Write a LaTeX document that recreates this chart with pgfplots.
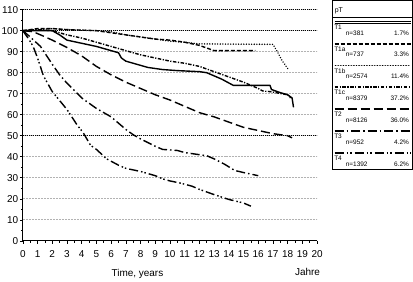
\documentclass[border=0pt]{standalone}
\usepackage{fontspec}
\setmainfont{Liberation Sans}
\usepackage{pgfplots}
\pgfplotsset{compat=1.18}
\tikzset{
  sT1/.style={solid},
  sT1a/.style={dash pattern=on 4bp off 2bp},
  sT1b/.style={line cap=round, line width=1.6bp, dash pattern=on 0.01bp off 2.6bp},
  sT1c/.style={dash pattern=on 3.5bp off 1.5bp on 1.2bp off 1.5bp},
  sT2/.style={dash pattern=on 9bp off 4bp},
  sT3/.style={dash pattern=on 9bp off 3bp on 1.5bp off 3bp},
  sT4/.style={dash pattern=on 9bp off 3bp on 1.5bp off 2bp on 1.5bp off 3bp},
  lgt/.style={inner sep=0pt, font=\fontsize{6.5}{7}\selectfont},
  lgl/.style={line width=1.8bp},
}
\begin{document}
\begin{tikzpicture}
\begin{axis}[
  scale only axis, width=294bp, height=231bp,
  xmin=0, xmax=20, ymin=0, ymax=110,
  axis x line=bottom, axis y line=left,
  axis line style={-, line width=1bp, black},
  xtick={0,...,20}, ytick={0,10,...,110},
  minor x tick num=1, minor y tick num=1,
  tick align=outside, major tick length=3bp, minor tick length=2bp,
  tick style={black, line width=0.6bp},
  ymajorgrids,
  major grid style={gray!60, dash pattern=on 1bp off 0.5bp, line width=0.9bp},
  extra y ticks={50,100,110}, extra y tick labels={},
  extra y tick style={grid=major, major grid style={black, dash pattern=on 1bp off 1bp, line width=0.8bp}},
  ticklabel style={font=\fontsize{10}{12}\selectfont, inner sep=1.5bp},
  xticklabel style={yshift=-5bp},
  /pgf/number format/assume math mode=true,
  clip=false,
  every axis plot/.append style={no marks, black, line width=1.4bp, line join=round},
]
% T1 solid
\addplot[sT1] coordinates {(0,100) (1,100) (2,100) (2.5,98) (3,95.5) (4,94) (5,92.5) (6,90.5) (6.5,89.5) (6.7,87) (7,85.5) (7.5,84.5) (8.5,82.5) (9.5,81.5) (10.5,81) (12,80.5) (12.5,80) (13,78.5) (13.5,77) (14.3,74) (16.8,74) (16.9,72) (17.5,70.5) (18,69.5) (18.3,68) (18.4,63.5)};
% T1a dashed
\addplot[sT1a] coordinates {(0,100) (1,101) (2,101) (3,100.5) (5,100) (6,99) (7,98) (8,97) (9,96) (10,95.5) (11,94.5) (12,93) (13,90.5) (15.8,90.5)};
% T1b dotted
\addplot[sT1b] coordinates {(0,100) (1,100.5) (2,101) (3,100.5) (5,100) (6,99.5) (7,98) (8,97) (9,96) (10,95) (11,94.5) (12,93.7) (17,93.5) (17.3,90) (17.6,86) (18,82)};
% T1c dash-dot
\addplot[sT1c] coordinates {(0,100) (1,100.5) (2,100) (3,98) (4,96.5) (5,94.5) (6,92.5) (7,90.5) (8,88.5) (9,87) (10,85.5) (11,84.5) (12,83) (13,80.5) (14,78) (15,75.5) (16,72.5) (16.3,71.3) (16.8,71) (17.2,70.5) (18,69.5) (18.2,68)};
% T2 long dashed
\addplot[sT2] coordinates {(0,100) (0.7,99.5) (1.4,97.4) (2,95.5) (3,92) (4,88) (5,83) (6,79) (7,75.5) (8,72.5) (9,69.5) (10,67) (11,64) (12,61) (13,59) (14,56.5) (15,54) (16,52.5) (17,51) (18,50) (18.3,49)};
% T3
\addplot[sT3] coordinates {(0,100) (0.5,97) (1.2,92.5) (2,84) (2.5,79) (3,75) (4,68) (5,63) (6,59) (7,53) (7.5,50.5) (8,48.5) (9,45) (9.5,43.5) (10.5,43) (11,42) (12,41) (12.5,40.5) (13,39) (13.7,36.5) (14.4,33.5) (15,32.5) (16,31)};
% T4
\addplot[sT4] coordinates {(0,100) (0.4,96) (0.7,92.5) (1,87) (1.4,78.5) (2,71) (3,62.5) (3.7,55) (4.1,51.5) (4.6,45.5) (5,43.5) (5.7,39) (6.5,36) (7,34.5) (8,33) (9,31) (9.5,29.5) (10,28.5) (10.7,27.5) (11.5,26) (12,24.5) (13,22) (14,19.7) (15,18) (15.5,16.5)};
\end{axis}
\begin{scope}[x=1bp,y=1bp]
  \node[font=\fontsize{10}{12}\selectfont] at (114.5,-32.7) {Time, years};
  \node[font=\fontsize{10}{12}\selectfont] at (284.5,-30.7) {Jahre};
  \draw[line width=0.7bp] (309.5,240.3) rectangle (389.5,71.3);
  \node[anchor=west, inner sep=0pt, font=\fontsize{7}{8}\selectfont] at (311.5,230.3) {pT};
  \draw[line width=0.6bp] (309.5,223) -- (389.5,223);
  % T1
  \draw[line width=0.9bp] (311.5,219.4) -- (387.5,219.4);
  \draw[line width=0.5bp] (311.5,217.8) -- (387.5,217.8);
  \node[lgt, anchor=west] at (311,213.5) {T1};
  \node[lgt, anchor=west] at (322.5,207.8) {n=381};
  \node[lgt, anchor=east] at (386,207.8) {1.7\%};
  % T1a
  \draw[lgl, dash pattern=on 4bp off 2bp] (311.5,197.0) -- (387.5,197.0);
  \node[lgt, anchor=west] at (311,191.7) {T1a};
  \node[lgt, anchor=west] at (322.5,186.0) {n=737};
  \node[lgt, anchor=east] at (386,186.0) {3.3\%};
  % T1b
  \draw[line width=1.8bp, line cap=round, dash pattern=on 0.01bp off 2.6bp] (312.5,175.2) -- (387,175.2);
  \node[lgt, anchor=west] at (311,169.9) {T1b};
  \node[lgt, anchor=west] at (322.5,164.2) {n=2574};
  \node[lgt, anchor=east] at (386,164.2) {11.4\%};
  % T1c
  \draw[lgl, dash pattern=on 3.5bp off 1.5bp on 1.2bp off 1.5bp] (311.5,153.4) -- (387.5,153.4);
  \node[lgt, anchor=west] at (311,148.1) {T1c};
  \node[lgt, anchor=west] at (322.5,142.4) {n=8379};
  \node[lgt, anchor=east] at (386,142.4) {37.2\%};
  % T2
  \draw[lgl, sT2] (311.5,131.6) -- (387.5,131.6);
  \node[lgt, anchor=west] at (311,126.3) {T2};
  \node[lgt, anchor=west] at (322.5,120.6) {n=8126};
  \node[lgt, anchor=east] at (386,120.6) {36.0\%};
  % T3
  \draw[lgl, sT3] (311.5,109.8) -- (387.5,109.8);
  \node[lgt, anchor=west] at (311,104.5) {T3};
  \node[lgt, anchor=west] at (322.5,98.8) {n=952};
  \node[lgt, anchor=east] at (386,98.8) {4.2\%};
  % T4
  \draw[lgl, sT4] (311.5,88.0) -- (387.5,88.0);
  \node[lgt, anchor=west] at (311,82.7) {T4};
  \node[lgt, anchor=west] at (322.5,77.0) {n=1392};
  \node[lgt, anchor=east] at (386,77.0) {6.2\%};
\end{scope}
\end{tikzpicture}
\end{document}
